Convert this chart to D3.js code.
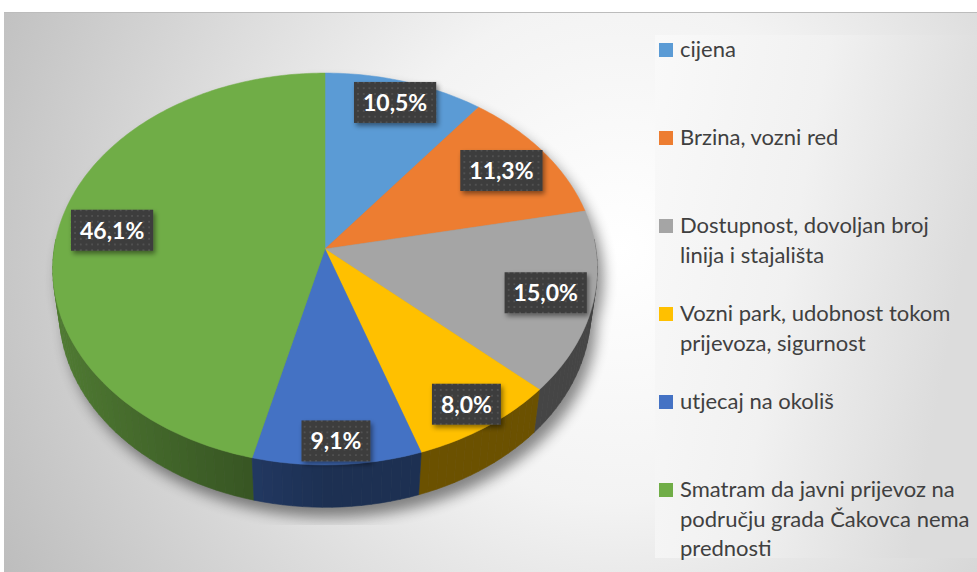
<!DOCTYPE html>
<html>
<head>
<meta charset="utf-8">
<script src="https://cdn.jsdelivr.net/npm/d3@7"></script>
<style>
  body { margin: 0; background: #fff; }
  svg { display: block; }
</style>
</head>
<body>
<div id="chart"></div>
<script>
// data
var categories = [
  "cijena",
  "Brzina, vozni red",
  "Dostupnost, dovoljan broj linija i stajališta",
  "Vozni park, udobnost tokom prijevoza, sigurnost",
  "utjecaj na okoliš",
  "Smatram da javni prijevoz na području grada Čakovca nema prednosti"
];
var legendLines = [
  ["cijena"],
  ["Brzina, vozni red"],
  ["Dostupnost, dovoljan broj", "linija i stajališta"],
  ["Vozni park, udobnost tokom", "prijevoza, sigurnost"],
  ["utjecaj na okoliš"],
  ["Smatram da javni prijevoz na", "području grada Čakovca nema", "prednosti"]
];
var values = [10.5, 11.3, 15.0, 8.0, 9.1, 46.1];
var colors = ["#5b9bd5", "#ed7d31", "#a5a5a5", "#ffc000", "#4472c4", "#70ad47"];

var W = 977, H = 572;
var svg = d3.select("#chart").append("svg")
  .attr("width", W).attr("height", H);

var defs = svg.append("defs");

// chart background
var bg = defs.append("radialGradient").attr("id", "bg")
  .attr("gradientUnits", "userSpaceOnUse")
  .attr("cx", 620).attr("cy", 250).attr("r", 720);
bg.append("stop").attr("offset", "0").attr("stop-color", "#ffffff");
bg.append("stop").attr("offset", "0.35").attr("stop-color", "#f3f3f3");
bg.append("stop").attr("offset", "1").attr("stop-color", "#bababa");

var lg = defs.append("linearGradient").attr("id", "lg")
  .attr("x1", 0).attr("y1", 0).attr("x2", 1).attr("y2", 0.3);
lg.append("stop").attr("offset", "0").attr("stop-color", "#f9f9f9");
lg.append("stop").attr("offset", "0.5").attr("stop-color", "#f1f1f1");
lg.append("stop").attr("offset", "1").attr("stop-color", "#dcdcdc");

var blur = defs.append("filter").attr("id", "blur")
  .attr("x", "-20%").attr("y", "-20%").attr("width", "140%").attr("height", "140%");
blur.append("feGaussianBlur").attr("stdDeviation", 7);

var lshadow = defs.append("filter").attr("id", "lshadow")
  .attr("x", "-20%").attr("y", "-30%").attr("width", "150%").attr("height", "170%");
lshadow.append("feDropShadow").attr("dx", 2).attr("dy", 3)
  .attr("stdDeviation", 2.5).attr("flood-color", "#000").attr("flood-opacity", 0.45);

var dots = defs.append("pattern").attr("id", "dots")
  .attr("patternUnits", "userSpaceOnUse").attr("width", 5.7).attr("height", 5.7);
dots.append("rect").attr("width", 5.7).attr("height", 5.7).attr("fill", "#3c3c3c");
dots.append("circle").attr("cx", 2.85).attr("cy", 2.85).attr("r", 0.9).attr("fill", "#5a5a5a");

defs.append("clipPath").attr("id", "plotclip")
  .append("rect").attr("x", 8).attr("y", 14).attr("width", 640).attr("height", 511);

svg.append("rect").attr("x", 4).attr("y", 12).attr("width", W - 4).attr("height", H - 12)
  .attr("fill", "url(#bg)");
svg.append("line").attr("x1", 4).attr("x2", W).attr("y1", 12.5).attr("y2", 12.5)
  .attr("stroke", "#bcbcbc").attr("stroke-width", 1);

// 3D perspective projection of the pie disc
var P = {cx: 325, cy: 249, F: 1855, D: 6.85, s: 0.716, c: 0.698, h: 0.235};
function proj(r, a, z) {
  var X = r * Math.sin(a), Z = r * Math.cos(a);
  var yc = z * P.c + Z * P.s;
  var dep = P.D + Z * P.c - z * P.s;
  return [P.cx + P.F * X / dep, P.cy - P.F * yc / dep];
}
function arcPts(a0, a1, z) {
  var n = Math.max(2, Math.ceil((a1 - a0) / (Math.PI / 180)));
  return d3.range(n + 1).map(function (i) { return proj(1, a0 + (a1 - a0) * i / n, z); });
}

var pie = d3.pie().sort(null).value(function (d) { return d; });
var arcs = pie(values);
var line = d3.line();

// drop shadow of the whole body
var sh = svg.append("g").attr("clip-path", "url(#plotclip)")
  .append("g").attr("filter", "url(#blur)")
  .attr("transform", "translate(6,10)").attr("opacity", 0.45);
sh.append("path").attr("d", line(arcPts(0, 2 * Math.PI, -P.h)) + "Z").attr("fill", "#000");
sh.append("path").attr("d", line(arcPts(0, 2 * Math.PI, 0)) + "Z").attr("fill", "#000");

// side walls, back to front
function shade(col, a) {
  var f = 0.42 + 0.3 * Math.max(0, -Math.sin(a));
  var c = d3.rgb(col);
  return d3.rgb(c.r * f, c.g * f, c.b * f).toString();
}
var segs = [];
arcs.forEach(function (d, i) {
  var a0 = Math.max(d.startAngle, Math.PI / 2 - 0.05);
  var a1 = Math.min(d.endAngle, 3 * Math.PI / 2 + 0.05);
  if (a1 <= a0) return;
  var n = Math.ceil((a1 - a0) / (Math.PI / 90));
  for (var k = 0; k < n; k++) {
    var s0 = a0 + (a1 - a0) * k / n, s1 = a0 + (a1 - a0) * (k + 1) / n;
    segs.push({i: i, a0: s0, a1: s1, m: (s0 + s1) / 2});
  }
});
segs.sort(function (p, q) { return Math.cos(q.m) - Math.cos(p.m); });
var walls = svg.append("g");
segs.forEach(function (sg) {
  var pts = [proj(1, sg.a0, 0), proj(1, sg.a1, 0), proj(1, sg.a1, -P.h), proj(1, sg.a0, -P.h)];
  var col = shade(colors[sg.i], sg.m);
  walls.append("path").attr("d", line(pts) + "Z")
    .attr("fill", col).attr("stroke", col).attr("stroke-width", 0.6);
});

// top faces
svg.append("g").selectAll("path").data(arcs).join("path")
  .attr("d", function (d) {
    return line([proj(0, 0, 0)].concat(arcPts(d.startAngle, d.endAngle, 0))) + "Z";
  })
  .attr("fill", function (d, i) { return colors[i]; })
  .attr("stroke", function (d, i) { return colors[i]; })
  .attr("stroke-width", 0.5);

// data labels
var fmt = function (v) { return v.toFixed(1).replace(".", ",") + "%"; };
var lab = svg.append("g").selectAll("g").data(arcs).join("g")
  .attr("transform", function (d) {
    var m = (d.startAngle + d.endAngle) / 2;
    var r = 0.8 + 0.1 * Math.max(0, -Math.cos(m)) + 0.08 * Math.max(0, Math.cos(m) - 0.7) / 0.3;
    var p = proj(r, m, 0);
    return "translate(" + p[0] + "," + p[1] + ")";
  });
lab.append("text")
  .attr("text-anchor", "middle").attr("dy", "0.36em")
  .style("font-family", "Lato, 'Open Sans', sans-serif")
  .style("font-weight", "bold").style("font-size", "23px")
  .attr("fill", "#fff")
  .text(function (d) { return fmt(d.data); });
lab.each(function () {
  var g = d3.select(this);
  var bb = g.select("text").node().getBBox();
  var w = bb.width + 18, h = 41;
  g.insert("rect", "text")
    .attr("x", -w / 2).attr("y", -h / 2).attr("width", w).attr("height", h)
    .attr("fill", "url(#dots)").attr("filter", "url(#lshadow)");
});

// legend
svg.append("rect").attr("x", 655).attr("y", 35).attr("width", W - 655).attr("height", 523)
  .attr("fill", "url(#lg)");
var leg = svg.append("g").selectAll("g").data(legendLines).join("g")
  .attr("transform", function (d, i) { return "translate(659," + (49 + 88 * i) + ")"; });
leg.append("rect").attr("x", 0).attr("y", -6).attr("width", 14).attr("height", 14)
  .attr("fill", function (d, i) { return colors[i]; });
leg.append("text")
  .style("font-family", "Lato, 'Open Sans', sans-serif").style("font-size", "22px")
  .attr("fill", "#404040")
  .selectAll("tspan").data(function (d) { return d; }).join("tspan")
  .attr("x", 21).attr("y", function (d, j) { return 8 + 29.5 * j; })
  .text(function (d) { return d; });
</script>
</body>
</html>
